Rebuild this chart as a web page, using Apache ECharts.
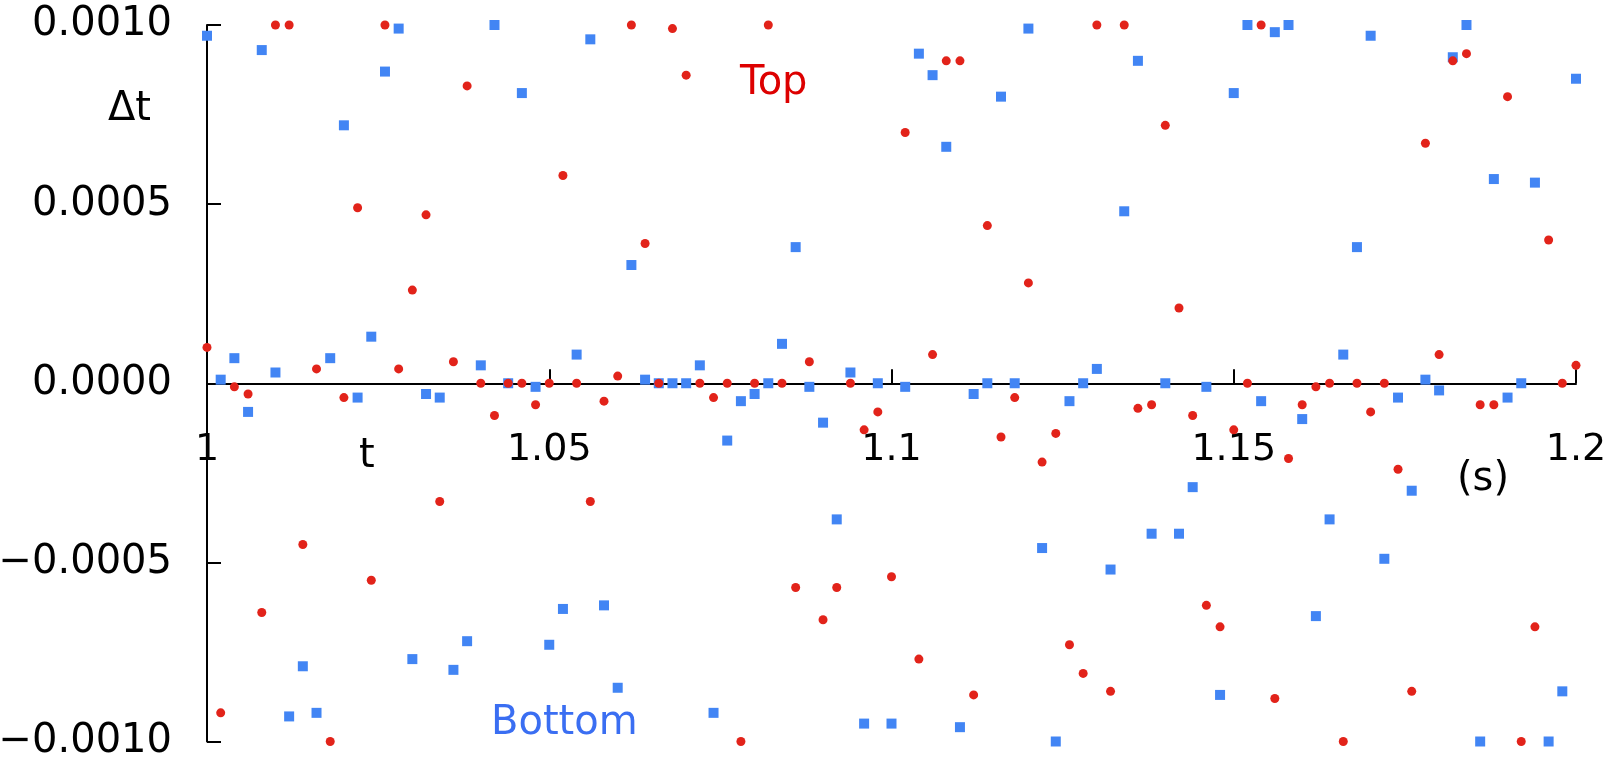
<!DOCTYPE html>
<html>
<head>
<meta charset="utf-8">
<title>Δt</title>
<script src="https://cdn.jsdelivr.net/npm/echarts@6/dist/echarts.min.js"></script>
<style>
    html, body { margin: 0; padding: 0; background: #fff; }
    #chart { width: 1617px; height: 762px; }
</style>
</head>
<body>
<div id="chart"></div>
<script>
// sample times (s)
var times = [
    1.000, 1.002, 1.004, 1.006, 1.008, 1.010, 1.012, 1.014, 1.016, 1.018,
    1.020, 1.022, 1.024, 1.026, 1.028, 1.030, 1.032, 1.034, 1.036, 1.038,
    1.040, 1.042, 1.044, 1.046, 1.048, 1.050, 1.052, 1.054, 1.056, 1.058,
    1.060, 1.062, 1.064, 1.066, 1.068, 1.070, 1.072, 1.074, 1.076, 1.078,
    1.080, 1.082, 1.084, 1.086, 1.088, 1.090, 1.092, 1.094, 1.096, 1.098,
    1.100, 1.102, 1.104, 1.106, 1.108, 1.110, 1.112, 1.114, 1.116, 1.118,
    1.120, 1.122, 1.124, 1.126, 1.128, 1.130, 1.132, 1.134, 1.136, 1.138,
    1.140, 1.142, 1.144, 1.146, 1.148, 1.150, 1.152, 1.154, 1.156, 1.158,
    1.160, 1.162, 1.164, 1.166, 1.168, 1.170, 1.172, 1.174, 1.176, 1.178,
    1.180, 1.182, 1.184, 1.186, 1.188, 1.190, 1.192, 1.194, 1.196, 1.198,
    1.200
];
// Δt of the top series
var topDt = [
    0.0001, -0.00092, -0.00001, -0.00003, -0.00064, 0.001, 0.001, -0.00045, 0.00004, -0.001,
    -0.00004, 0.00049, -0.00055, 0.001, 0.00004, 0.00026, 0.00047, -0.00033, 0.00006, 0.00083,
    0, -0.00009, 0, 0, -0.00006, 0, 0.00058, 0, -0.00033, -0.00005,
    0.00002, 0.001, 0.00039, 0, 0.00099, 0.00086, 0, -0.00004, 0, -0.001,
    0, 0.001, 0, -0.00057, 0.00006, -0.00066, -0.00057, 0, -0.00013, -0.00008,
    -0.00054, 0.0007, -0.00077, 0.00008, 0.0009, 0.0009, -0.00087, 0.00044, -0.00015, -0.00004,
    0.00028, -0.00022, -0.00014, -0.00073, -0.00081, 0.001, -0.00086, 0.001, -0.00007, -0.00006,
    0.00072, 0.00021, -0.00009, -0.00062, -0.00068, -0.00013, 0, 0.001, -0.00088, -0.00021,
    -0.00006, -0.00001, 0, -0.001, 0, -0.00008, 0, -0.00024, -0.00086, 0.00067,
    0.00008, 0.0009, 0.00092, -0.00006, -0.00006, 0.0008, -0.001, -0.00068, 0.0004, 0,
    0.00005
];
// Δt of the bottom series
var bottomDt = [
    0.00097, 0.00001, 0.00007, -0.00008, 0.00093, 0.00003, -0.00093, -0.00079, -0.00092, 0.00007,
    0.00072, -0.00004, 0.00013, 0.00087, 0.00099, -0.00077, -0.00003, -0.00004, -0.0008, -0.00072,
    0.00005, 0.001, 0, 0.00081, -0.00001, -0.00073, -0.00063, 0.00008, 0.00096, -0.00062,
    -0.00085, 0.00033, 0.00001, 0, 0, 0, 0.00005, -0.00092, -0.00016, -0.00005,
    -0.00003, 0, 0.00011, 0.00038, -0.00001, -0.00011, -0.00038, 0.00003, -0.00095, 0,
    -0.00095, -0.00001, 0.00092, 0.00086, 0.00066, -0.00096, -0.00003, 0, 0.0008, 0,
    0.00099, -0.00046, -0.001, -0.00005, 0, 0.00004, -0.00052, 0.00048, 0.0009, -0.00042,
    0, -0.00042, -0.00029, -0.00001, -0.00087, 0.00081, 0.001, -0.00005, 0.00098, 0.001,
    -0.0001, -0.00065, -0.00038, 0.00008, 0.00038, 0.00097, -0.00049, -0.00004, -0.0003, 0.00001,
    -0.00002, 0.00091, 0.001, -0.001, 0.00057, -0.00004, 0, 0.00056, -0.001, -0.00086,
    0.00085
];
var xTicks = { min: 1, max: 1.2, interval: 0.05 };
var yTicks = { min: -0.001, max: 0.001, interval: 0.0005 };

function pairs(xs, ys) {
    var out = [];
    for (var i = 0; i < xs.length; i++) {
        out.push([xs[i], ys[i]]);
    }
    return out;
}

var chart = echarts.init(document.getElementById('chart'));
var font = 'DejaVu Sans';
var line = { color: '#000', width: 2 };
var grid = { left: 207, right: 41, top: 25, bottom: 20.5 };
// x axis sits on Δt = 0, which is the middle of the symmetric y range
var plotHeight = 762 - grid.top - grid.bottom;

var option = {
    animation: false,
    textStyle: { fontFamily: font },
    grid: {
        left: grid.left, right: grid.right, top: grid.top, bottom: grid.bottom,
        containLabel: false,
        outerBoundsMode: 'none'
    },
    xAxis: {
        type: 'value',
        position: 'bottom',
        offset: -plotHeight / 2,
        min: xTicks.min,
        max: xTicks.max,
        interval: xTicks.interval,
        axisLine: { show: true, onZero: false, lineStyle: line },
        axisTick: { show: true, inside: true, length: 14, lineStyle: line },
        splitLine: { show: false },
        axisLabel: {
            margin: 48,
            fontSize: 38,
            color: '#000',
            fontFamily: font,
            formatter: function (v) { return String(parseFloat(v.toFixed(2))); }
        }
    },
    yAxis: {
        type: 'value',
        min: yTicks.min,
        max: yTicks.max,
        interval: yTicks.interval,
        axisLine: { show: true, onZero: false, lineStyle: line },
        axisTick: { show: true, inside: true, length: 14, lineStyle: line },
        splitLine: { show: false },
        axisLabel: {
            margin: 35,
            fontSize: 40,
            color: '#000',
            fontFamily: font,
            formatter: function (v) { return v.toFixed(4).replace('-', '\u2212'); }
        }
    },
    series: [
        {
            name: 'Bottom',
            type: 'scatter',
            symbol: 'rect',
            symbolSize: 10,
            itemStyle: { color: '#4285f4', opacity: 1 },
            data: pairs(times, bottomDt)
        },
        {
            name: 'Top',
            type: 'scatter',
            symbol: 'circle',
            symbolSize: 9,
            itemStyle: { color: '#e2231a', opacity: 1 },
            data: pairs(times, topDt)
        }
    ],
    graphic: [
        { type: 'text', left: 108, top: 90, style: { text: 'Δt', fontSize: 40, fontFamily: font, fill: '#000' } },
        { type: 'text', left: 359, top: 437, style: { text: 't', fontSize: 40, fontFamily: font, fill: '#000' } },
        { type: 'text', left: 1457, top: 460, style: { text: '(s)', fontSize: 40, fontFamily: font, fill: '#000' } },
        { type: 'text', left: 740, top: 64, style: { text: 'Top', fontSize: 40, fontFamily: font, fill: '#dd0000' } },
        { type: 'text', left: 491, top: 704, style: { text: 'Bottom', fontSize: 40, fontFamily: font, fill: '#3a6ef2' } }
    ]
};
chart.setOption(option);
</script>
</body>
</html>
